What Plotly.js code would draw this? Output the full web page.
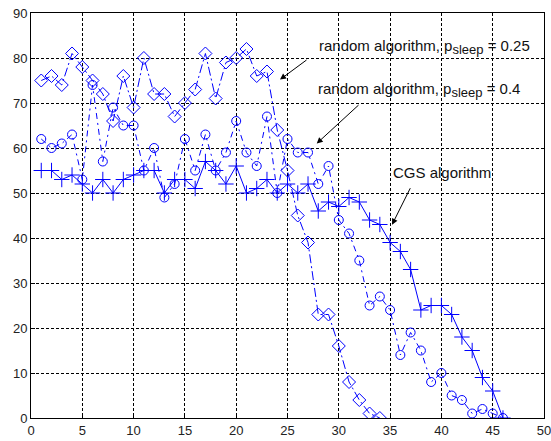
<!DOCTYPE html>
<html>
<head>
<meta charset="utf-8">
<script src="https://cdn.plot.ly/plotly-3.0.1.min.js"></script>
<style>html,body{margin:0;padding:0;background:#fff;}#chart{width:551px;height:441px;}</style>
</head>
<body>
<div id="chart"></div>
<script>
// x positions
var xDiamond = [1,2,3,4,5,6,7,8,9,10,11,12,13,14,15,16,17,18,19,20,21,22,23,24,25,26,27,28,29,30,31,32,33,34];
var xCircle = [1,2,3,4,5,6,7,8,9,10,11,12,13,14,15,16,17,18,19,20,21,22,23,24,25,26,27,28,29,30,31,32,33,34,35,36,37,38,39,40,41,42,43,44,45,46];
var xCGS = xCircle.slice();
// random algorithm, p_sleep = 0.25
var randomP025 = [75,76,74,81,78,75,72,66,76,69,80,72,72,67,70,73,81,71,79,80,82,76,77,64,55,45,39,23,23,16,8,4,1,0];
// random algorithm, p_sleep = 0.4
var randomP04 = [62,60,61,63,53,74,57,69,65,65,55,60,49,52,62,55,63,55,59,66,59,56,67,50,62,59,59,52,56,44,41,35,25,27,24,14,19,15,8,10,5,4,1,2,1,0];
// CGS algorithm
var cgs = [55,55,53,54,52,50,53,50,53,54,55,55,50,53,53,51,57,55,52,56,50,51,53,50,52,50,52,46,48,47,49,48,44,43,39,37,33,24,25,25,23,18,15,9,6,0];
var xTicks = [0,5,10,15,20,25,30,35,40,45,50];
var yTicks = [0,10,20,30,40,50,60,70,80,90];

var blue = '#0000ff';
var traces = [
  {x: xDiamond, y: randomP025, mode: 'lines+markers', type: 'scatter',
   line: {color: blue, width: 1, dash: '9px,3px,2px,3px'},
   marker: {symbol: 'diamond-open', size: 10, color: blue, line: {width: 1, color: blue}}},
  {x: xCircle, y: randomP04, mode: 'lines+markers', type: 'scatter',
   line: {color: blue, width: 1, dash: '6px,4px,2px,4px'},
   marker: {symbol: 'circle-open', size: 9, color: blue, line: {width: 1, color: blue}}},
  {x: xCGS, y: cgs, mode: 'lines+markers', type: 'scatter',
   line: {color: blue, width: 1},
   marker: {symbol: 'cross-thin-open', size: 11, color: blue, line: {width: 1, color: blue}}}
];

var tickFont = {family: 'Arial, "Liberation Sans", sans-serif', size: 13, color: '#222'};
var annFont = {family: 'Arial, "Liberation Sans", sans-serif', size: 15, color: '#111'};
function arrow(hx, hy, tx, ty) {
  return {x: hx, y: hy, ax: tx, ay: ty, xref: 'x', yref: 'y', axref: 'x', ayref: 'y',
          text: '', showarrow: true, arrowhead: 2, arrowsize: 1.2, arrowwidth: 1, arrowcolor: '#000', standoff: 0, startstandoff: 0};
}
var subStyle = function (s) { return '<sub><span style="font-size:13px">' + s + '</span></sub>'; };
var layout = {
  width: 551, height: 441,
  margin: {l: 31, r: 7, t: 13, b: 23},
  paper_bgcolor: '#fff', plot_bgcolor: '#fff',
  showlegend: false,
  xaxis: {range: [0, 50], tickvals: xTicks, ticktext: xTicks.map(String),
          showgrid: true, gridcolor: '#000', gridwidth: 1, griddash: '3px,2px',
          zeroline: false, showline: true, linecolor: '#000', linewidth: 1, mirror: true,
          ticks: 'inside', ticklen: 4, tickcolor: '#000', tickfont: tickFont,
          ticklabeloverflow: 'allow'},
  yaxis: {range: [0, 90], tickvals: yTicks, ticktext: yTicks.map(String),
          showgrid: true, gridcolor: '#000', gridwidth: 1, griddash: '3px,2px',
          zeroline: false, showline: true, linecolor: '#000', linewidth: 1, mirror: true,
          ticks: 'inside', ticklen: 4, tickcolor: '#000', tickfont: tickFont,
          ticklabeloverflow: 'allow'},
  annotations: [
    {x: 27.85, y: 82.5, xref: 'x', yref: 'y', xanchor: 'left', yanchor: 'middle', showarrow: false,
     text: 'random algorithm, p' + subStyle('sleep') + ' = 0.25', font: annFont},
    {x: 27.75, y: 73.0, xref: 'x', yref: 'y', xanchor: 'left', yanchor: 'middle', showarrow: false,
     text: 'random algorithm, p' + subStyle('sleep') + ' = 0.4', font: annFont},
    {x: 35.06, y: 54.6, xref: 'x', yref: 'y', xanchor: 'left', yanchor: 'middle', showarrow: false,
     text: 'CGS algorithm', font: annFont},
    arrow(24.27, 75.2, 27.0, 79.8),
    arrow(27.85, 61.0, 32.07, 69.84),
    arrow(35.19, 42.96, 37.04, 51.4)
  ]
};
Plotly.newPlot('chart', traces, layout, {displayModeBar: false, staticPlot: true});
</script>
</body>
</html>
